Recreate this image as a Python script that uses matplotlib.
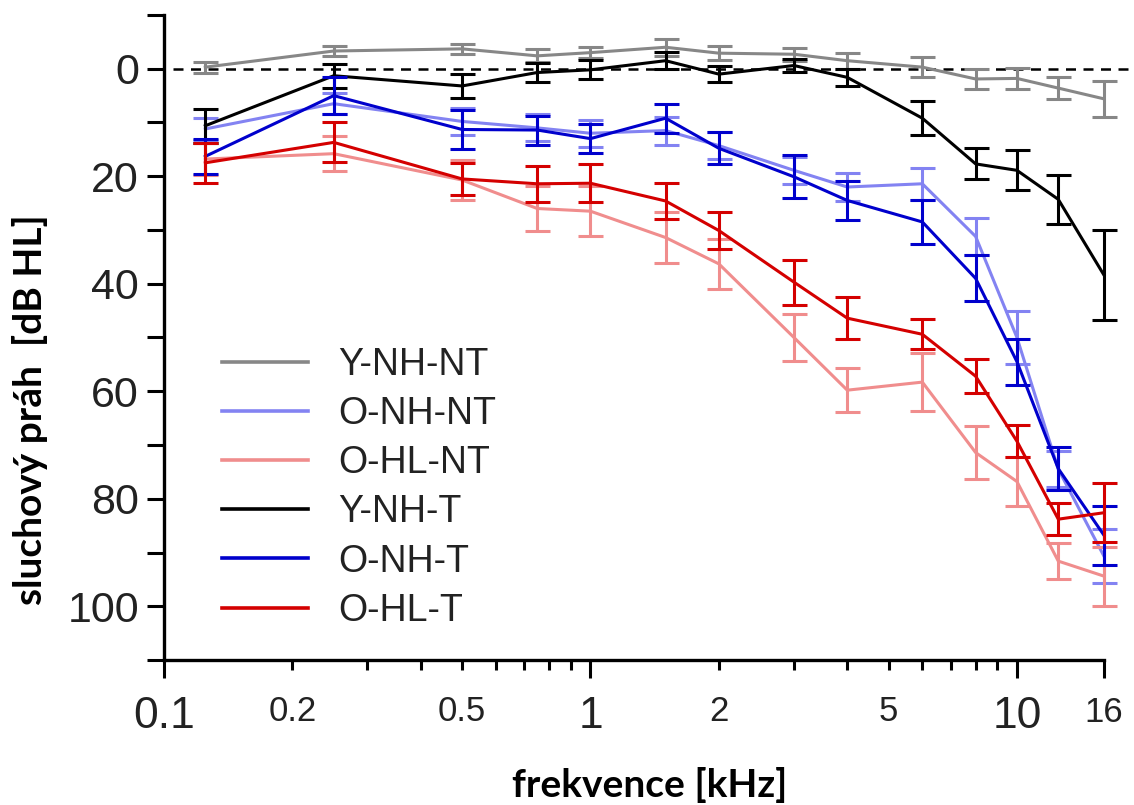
import matplotlib
matplotlib.use("Agg")
import matplotlib.pyplot as plt
from matplotlib.lines import Line2D
from matplotlib.ticker import FixedLocator, FixedFormatter, NullFormatter

# ---- data ----
freqs = [0.125, 0.25, 0.5, 0.75, 1, 1.5, 2, 3, 4, 6, 8, 10, 12.5, 16]

series_names = ["Y-NH-NT", "O-NH-NT", "O-HL-NT", "Y-NH-T", "O-NH-T", "O-HL-T"]

y_nh_nt = [-0.3, -3.3, -3.7, -2.4, -3.0, -4.0, -2.9, -2.7, -1.5, -0.3, 1.9, 1.8, 3.6, 5.6]
y_nh_nt_err = [1.0, 1.0, 0.9, 1.2, 1.0, 1.6, 1.3, 1.2, 1.5, 1.8, 1.9, 2.0, 2.0, 3.3]

o_nh_nt = [11.2, 6.5, 9.8, 11.0, 12.0, 11.5, 14.3, 18.9, 22.0, 21.4, 31.2, 50.0, 74.5, 90.7]
o_nh_nt_err = [2.0, 2.0, 2.5, 2.5, 2.5, 2.6, 2.5, 2.5, 2.6, 3.0, 3.5, 5.0, 3.3, 5.0]

o_hl_nt = [16.8, 15.8, 20.7, 26.0, 26.5, 31.4, 36.3, 50.0, 59.8, 58.3, 71.4, 76.8, 91.6, 94.4]
o_hl_nt_err = [3.0, 3.3, 3.7, 4.2, 4.7, 4.8, 4.6, 4.4, 4.1, 5.4, 4.9, 4.6, 3.4, 5.5]

y_nh_t = [10.6, 1.3, 3.2, 0.7, 0.2, -1.5, 1.0, -0.6, 1.6, 9.2, 17.7, 18.9, 24.3, 38.4]
y_nh_t_err = [3.2, 2.2, 2.2, 1.8, 1.8, 1.6, 1.5, 1.2, 1.6, 3.2, 2.9, 3.7, 4.6, 8.4]

o_nh_t = [16.3, 5.0, 11.3, 11.4, 13.0, 9.2, 14.8, 20.1, 24.5, 28.5, 39.0, 54.5, 74.4, 86.8]
o_nh_t_err = [3.3, 3.5, 3.7, 2.7, 2.7, 2.7, 3.0, 4.0, 3.7, 4.1, 4.3, 4.3, 4.0, 5.5]

o_hl_t = [17.5, 13.7, 20.5, 21.4, 21.3, 24.6, 30.1, 39.7, 46.4, 49.4, 57.2, 69.3, 83.8, 82.6]
o_hl_t_err = [3.7, 3.7, 3.0, 3.3, 3.5, 3.3, 3.4, 4.2, 3.9, 2.8, 3.2, 3.0, 3.0, 5.5]

y_major = [0, 20, 40, 60, 80, 100]
y_minor = [-10, 10, 30, 50, 70, 90, 110]
x_major = [0.1, 1, 10, 16]
x_major_labels = ["0.1", "1", "10", "16"]
x_minor = [0.2, 0.3, 0.4, 0.5, 0.6, 0.7, 0.8, 0.9, 2, 3, 4, 5, 6, 7, 8, 9]
x_minor_labels = ["0.2", "", "", "0.5", "", "", "", "", "2", "", "", "5", "", "", "", ""]

# ---- style ----
colors = ["#878787", "#8383f2", "#f08d8d", "#000000", "#0000cc", "#d40000"]
tick_font = "Liberation Sans"
label_font = "Lato"

W, H = 1134, 805
fig = plt.figure(figsize=(W / 100, H / 100), dpi=100)
ax = fig.add_axes([164 / W, 1 - 660 / H, (1104 - 164) / W, (660 - 15) / H])

ax.set_xscale("log")
ax.set_xlim(0.1, 16)
ax.set_ylim(110, -10)

values = [y_nh_nt, o_nh_nt, o_hl_nt, y_nh_t, o_nh_t, o_hl_t]
errors = [y_nh_nt_err, o_nh_nt_err, o_hl_nt_err, y_nh_t_err, o_nh_t_err, o_hl_t_err]

for i, (name, vals, errs, c) in enumerate(zip(series_names, values, errors, colors)):
    cont = ax.errorbar(freqs, vals, yerr=errs, color=c, lw=2.2, elinewidth=2.2,
                       capsize=9, capthick=2.2, zorder=3 + i)
    for artist in cont.lines[1] + cont.lines[2] + (cont.lines[0],):
        artist.set_clip_on(False)

ax.axhline(0, xmin=0.01, xmax=1.035, color="black", lw=1.8,
           dashes=(4, 3), clip_on=False, zorder=2)

for s in ["top", "right"]:
    ax.spines[s].set_visible(False)
for s in ["left", "bottom"]:
    ax.spines[s].set_linewidth(2.4)

ax.yaxis.set_major_locator(FixedLocator(y_major))
ax.yaxis.set_minor_locator(FixedLocator(y_minor))
ax.yaxis.set_minor_formatter(NullFormatter())
ax.set_yticklabels([str(v) for v in y_major])
ax.tick_params(axis="y", which="both", direction="out", length=12, width=2.2, pad=6)
for t in ax.get_yticklabels():
    t.set_fontsize(31)
    t.set_fontfamily(tick_font)
    t.set_color("#222222")

ax.xaxis.set_major_locator(FixedLocator(x_major))
ax.xaxis.set_major_formatter(FixedFormatter(x_major_labels))
ax.xaxis.set_minor_locator(FixedLocator(x_minor))
ax.xaxis.set_minor_formatter(FixedFormatter(x_minor_labels))
ax.tick_params(axis="x", which="major", direction="out", length=13, width=2.2, pad=13)
ax.tick_params(axis="x", which="minor", direction="out", length=7, width=2.2, pad=18)
for t, lab in zip(ax.get_xticklabels(), x_major_labels):
    t.set_fontfamily(tick_font)
    t.set_fontsize(25 if lab == "16" else 32)
    t.set_color("#222222")
for t in ax.get_xticklabels(minor=True):
    t.set_fontfamily(tick_font)
    t.set_fontsize(25)
    t.set_color("#222222")

handles = [Line2D([], [], color=c, lw=2.6) for c in colors]
leg = ax.legend(handles, series_names, loc="upper left",
                bbox_to_anchor=(222 / W, 1 - 347 / H),
                bbox_transform=fig.transFigure, frameon=False,
                prop={"family": tick_font, "size": 27}, handlelength=2.3,
                handletextpad=0.8, labelspacing=0.35, borderpad=0, borderaxespad=0)
for t in leg.get_texts():
    t.set_color("#222222")

fig.text(30 / W, 1 - 410 / H, "sluchový práh  [dB HL]", rotation=90, ha="center",
         va="center", fontsize=28, fontweight="bold", family=label_font)
fig.text(650 / W, 1 - 785 / H, "frekvence [kHz]", ha="center", va="center",
         fontsize=28, fontweight="bold", family=label_font)

fig.savefig("out.png", dpi=100)
